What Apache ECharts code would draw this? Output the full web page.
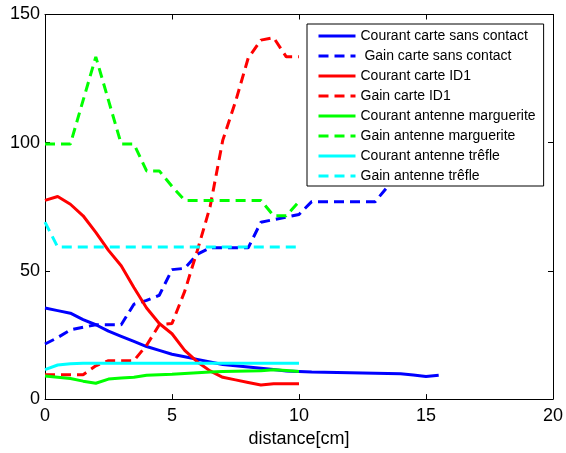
<!DOCTYPE html>
<html>
<head>
<meta charset="utf-8">
<script src="https://cdn.jsdelivr.net/npm/echarts@6/dist/echarts.min.js"></script>
<style>html,body{margin:0;padding:0;background:#fff;}#c{width:566px;height:453px;}</style>
</head>
<body>
<div id="c"></div>
<script>
var xShort = [0,0.5,1,1.5,2,2.5,3,3.5,4,4.5,5,5.5,6,6.5,7,7.5,8,8.5,9,9.5,10];
var xLong = [0,0.5,1,1.5,2,2.5,3,3.5,4,4.5,5,5.5,6,6.5,7,7.5,8,8.5,9,9.5,10,10.5,11,11.5,12,12.5,13,13.5,14,14.5,15,15.5];
var courantSansContact = [35.5,34.5,33.5,31,29,26.5,24.5,22.5,20.5,19,17.5,16.5,15.5,14.5,13.5,13,12.5,12,11.5,11,10.8,10.6,10.5,10.4,10.3,10.2,10.1,10,9.9,9.4,8.8,9.3];
var gainSansContact = [21.5,24,27,28,29,29,29,37,38.5,40.5,50.5,51,56.5,59,59,59,59,69,70,71,72,77,77,77,77,77,77,83,90,96,100,104];
var courantID1 = [77.5,79,76,71.5,65,58,52,43.5,35.5,29.5,25.5,19,14.5,11,8.5,7.5,6.5,5.5,6,6,6];
var gainID1 = [9.5,9.5,9.5,9.5,13,15,15,15,21,29,29.5,42,58,75,101,116,133,140,141,133.5,133.5];
var courantMarguerite = [9,8.5,8,7,6.2,7.8,8.2,8.5,9.3,9.5,9.7,10,10.3,10.6,10.8,10.9,11,11.1,11.4,11.2,10.8];
var gainMarguerite = [99.5,99.5,99.5,116.5,133.5,116.5,99.5,99.5,89,89,83,77.5,77.5,77.5,77.5,77.5,77.5,77.5,71.5,71.5,77];
var courantTrefle = [11.5,13.3,13.8,14,14,14,14,14,14,14,14,14,14,14,14,14,14,14,14,14,14];
var gainTrefle = [69,59.3,59.3,59.3,59.3,59.3,59.3,59.3,59.3,59.3,59.3,59.3,59.3,59.3,59.3,59.3,59.3,59.3,59.3,59.3,59.3];
var seriesNames = ['Courant carte sans contact',' Gain carte sans contact','Courant carte ID1','Gain carte ID1','Courant antenne marguerite','Gain antenne marguerite','Courant antenne trêfle','Gain antenne trêfle'];
var xTicks = [0,5,10,15,20];
var yTicks = [0,50,100,150];

function pairs(xs, ys){ return ys.map(function(v,i){ return [xs[i], v]; }); }
function mk(name, xs, ys, color, dashed){
  return {name:name, type:'line', data:pairs(xs,ys), symbol:'none', showSymbol:false, smooth:false,
    lineStyle:{color:color, width:3, type: dashed ? [10,6] : 'solid'},
    itemStyle:{color:color}, animation:false};
}
var chart = echarts.init(document.getElementById('c'), null, {renderer:'canvas'});
var axisFont = {fontFamily:'Liberation Sans, Arial, sans-serif', fontSize:18, color:'#000'};
chart.setOption({
  backgroundColor:'#fff',
  animation:false,
  grid:{left:45, right:11, top:14.5, bottom:52, containLabel:false},
  legend:{
    orient:'vertical', left:307, top:24,
    data:seriesNames,
    backgroundColor:'#fff', borderColor:'#000', borderWidth:1, borderRadius:0,
    padding:[5,8,3,10], itemWidth:37, itemHeight:14, itemGap:6,
    itemStyle:{opacity:0},
    lineStyle:{width:3},
    textStyle:{fontFamily:'Liberation Sans, Arial, sans-serif', fontSize:14, lineHeight:14, color:'#000'}
  },
  xAxis:[{
    type:'value', min:xTicks[0], max:xTicks[xTicks.length-1], interval:5,
    name:'distance[cm]', nameLocation:'middle', nameGap:30,
    nameTextStyle:axisFont,
    axisLine:{show:true, onZero:false, lineStyle:{color:'#000', width:1}},
    axisTick:{show:true, inside:true, length:5, lineStyle:{color:'#000'}},
    axisLabel:Object.assign({margin:8}, axisFont),
    splitLine:{show:false}
  },{
    type:'value', position:'top', min:xTicks[0], max:xTicks[xTicks.length-1], interval:5,
    axisLine:{show:true, onZero:false, lineStyle:{color:'#000', width:1}},
    axisTick:{show:true, inside:true, length:5, lineStyle:{color:'#000'}},
    axisLabel:{show:false}, splitLine:{show:false}
  }],
  yAxis:[{
    type:'value', min:yTicks[0], max:yTicks[yTicks.length-1], interval:50,
    axisLine:{show:true, onZero:false, lineStyle:{color:'#000', width:1}},
    axisTick:{show:true, inside:true, length:5, lineStyle:{color:'#000'}},
    axisLabel:Object.assign({margin:5}, axisFont),
    splitLine:{show:false}
  },{
    type:'value', position:'right', min:yTicks[0], max:yTicks[yTicks.length-1], interval:50,
    axisLine:{show:true, onZero:false, lineStyle:{color:'#000', width:1}},
    axisTick:{show:true, inside:true, length:5, lineStyle:{color:'#000'}},
    axisLabel:{show:false}, splitLine:{show:false}
  }],
  series:[
    mk(seriesNames[0], xLong, courantSansContact, '#0000ff', false),
    mk(seriesNames[1], xLong, gainSansContact, '#0000ff', true),
    mk(seriesNames[2], xShort, courantID1, '#ff0000', false),
    mk(seriesNames[3], xShort, gainID1, '#ff0000', true),
    mk(seriesNames[4], xShort, courantMarguerite, '#00ff00', false),
    mk(seriesNames[5], xShort, gainMarguerite, '#00ff00', true),
    mk(seriesNames[6], xShort, courantTrefle, '#00ffff', false),
    mk(seriesNames[7], xShort, gainTrefle, '#00ffff', true)
  ]
});
</script>
</body>
</html>
